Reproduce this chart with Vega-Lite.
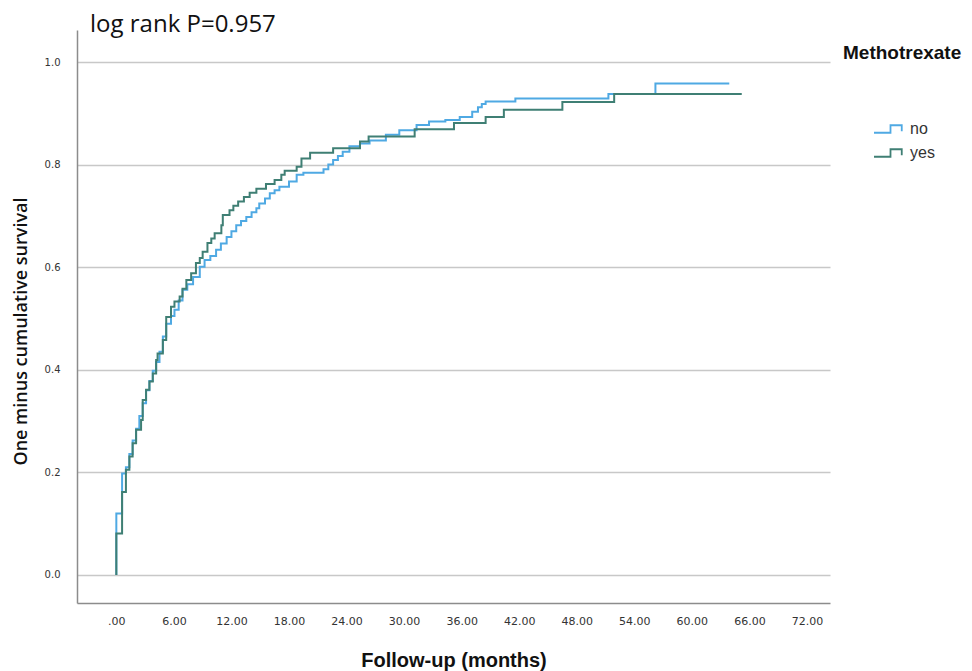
{
  "$schema": "https://vega.github.io/schema/vega-lite/v6.json",
  "width": 753,
  "height": 573,
  "autosize": {"type": "none"},
  "padding": {"left": 77, "top": 30, "right": 142, "bottom": 68},
  "background": "white",
  "title": {"text": "log rank P=0.957", "anchor": "start", "frame": "group", "dx": 13, "offset": 0, "dy": 26, "baseline": "alphabetic", "font": "Open Sans", "fontSize": 24, "fontWeight": "normal", "color": "#111111"},
  "config": {"view": {"stroke": null}},
  "datasets": {
    "km": [
      {"group": "no", "i": 0, "t": 0, "s": 0},
      {"group": "no", "i": 1, "t": 0, "s": 0.12},
      {"group": "no", "i": 2, "t": 0.6, "s": 0.198},
      {"group": "no", "i": 3, "t": 1.0, "s": 0.21},
      {"group": "no", "i": 4, "t": 1.36, "s": 0.236},
      {"group": "no", "i": 5, "t": 1.7, "s": 0.262},
      {"group": "no", "i": 6, "t": 2.06, "s": 0.285},
      {"group": "no", "i": 7, "t": 2.4, "s": 0.31},
      {"group": "no", "i": 8, "t": 2.75, "s": 0.335},
      {"group": "no", "i": 9, "t": 3.1, "s": 0.36},
      {"group": "no", "i": 10, "t": 3.45, "s": 0.378},
      {"group": "no", "i": 11, "t": 3.8, "s": 0.398},
      {"group": "no", "i": 12, "t": 4.15, "s": 0.415},
      {"group": "no", "i": 13, "t": 4.5, "s": 0.435},
      {"group": "no", "i": 14, "t": 4.85, "s": 0.465},
      {"group": "no", "i": 15, "t": 5.2, "s": 0.49},
      {"group": "no", "i": 16, "t": 5.7, "s": 0.505},
      {"group": "no", "i": 17, "t": 6.06, "s": 0.517},
      {"group": "no", "i": 18, "t": 6.5, "s": 0.535},
      {"group": "no", "i": 19, "t": 6.9, "s": 0.556},
      {"group": "no", "i": 20, "t": 7.4, "s": 0.567},
      {"group": "no", "i": 21, "t": 8.0, "s": 0.581},
      {"group": "no", "i": 22, "t": 8.7, "s": 0.601},
      {"group": "no", "i": 23, "t": 9.2, "s": 0.614},
      {"group": "no", "i": 24, "t": 9.8, "s": 0.622},
      {"group": "no", "i": 25, "t": 10.4, "s": 0.634},
      {"group": "no", "i": 26, "t": 10.9, "s": 0.646},
      {"group": "no", "i": 27, "t": 11.5, "s": 0.659},
      {"group": "no", "i": 28, "t": 12.0, "s": 0.67},
      {"group": "no", "i": 29, "t": 12.5, "s": 0.682},
      {"group": "no", "i": 30, "t": 13.0, "s": 0.69},
      {"group": "no", "i": 31, "t": 13.55, "s": 0.698},
      {"group": "no", "i": 32, "t": 14.1, "s": 0.707},
      {"group": "no", "i": 33, "t": 14.6, "s": 0.715},
      {"group": "no", "i": 34, "t": 14.9, "s": 0.724},
      {"group": "no", "i": 35, "t": 15.5, "s": 0.734},
      {"group": "no", "i": 36, "t": 16.0, "s": 0.744},
      {"group": "no", "i": 37, "t": 16.5, "s": 0.75},
      {"group": "no", "i": 38, "t": 17.0, "s": 0.757},
      {"group": "no", "i": 39, "t": 18.0, "s": 0.767},
      {"group": "no", "i": 40, "t": 18.8, "s": 0.78},
      {"group": "no", "i": 41, "t": 19.5, "s": 0.784},
      {"group": "no", "i": 42, "t": 21.6, "s": 0.791},
      {"group": "no", "i": 43, "t": 22.1, "s": 0.8},
      {"group": "no", "i": 44, "t": 22.6, "s": 0.809},
      {"group": "no", "i": 45, "t": 23.1, "s": 0.817},
      {"group": "no", "i": 46, "t": 23.6, "s": 0.825},
      {"group": "no", "i": 47, "t": 24.3, "s": 0.836},
      {"group": "no", "i": 48, "t": 25.4, "s": 0.841},
      {"group": "no", "i": 49, "t": 26.4, "s": 0.847},
      {"group": "no", "i": 50, "t": 28.1, "s": 0.858},
      {"group": "no", "i": 51, "t": 29.5, "s": 0.867},
      {"group": "no", "i": 52, "t": 31.3, "s": 0.877},
      {"group": "no", "i": 53, "t": 32.6, "s": 0.884},
      {"group": "no", "i": 54, "t": 34.3, "s": 0.887},
      {"group": "no", "i": 55, "t": 35.8, "s": 0.893},
      {"group": "no", "i": 56, "t": 37.1, "s": 0.903},
      {"group": "no", "i": 57, "t": 37.7, "s": 0.912},
      {"group": "no", "i": 58, "t": 38.1, "s": 0.918},
      {"group": "no", "i": 59, "t": 38.5, "s": 0.923},
      {"group": "no", "i": 60, "t": 41.6, "s": 0.929},
      {"group": "no", "i": 61, "t": 51.3, "s": 0.9376},
      {"group": "no", "i": 62, "t": 56.2, "s": 0.958},
      {"group": "no", "i": 63, "t": 63.9, "s": 0.958},
      {"group": "yes", "i": 0, "t": 0, "s": 0},
      {"group": "yes", "i": 1, "t": 0, "s": 0.081},
      {"group": "yes", "i": 2, "t": 0.6, "s": 0.162},
      {"group": "yes", "i": 3, "t": 1.0, "s": 0.205},
      {"group": "yes", "i": 4, "t": 1.36, "s": 0.231},
      {"group": "yes", "i": 5, "t": 1.7, "s": 0.257},
      {"group": "yes", "i": 6, "t": 2.06, "s": 0.283},
      {"group": "yes", "i": 7, "t": 2.58, "s": 0.302},
      {"group": "yes", "i": 8, "t": 2.75, "s": 0.341},
      {"group": "yes", "i": 9, "t": 3.1, "s": 0.361},
      {"group": "yes", "i": 10, "t": 3.45, "s": 0.377},
      {"group": "yes", "i": 11, "t": 3.8, "s": 0.393},
      {"group": "yes", "i": 12, "t": 4.15, "s": 0.419},
      {"group": "yes", "i": 13, "t": 4.3, "s": 0.432},
      {"group": "yes", "i": 14, "t": 4.85, "s": 0.458},
      {"group": "yes", "i": 15, "t": 5.2, "s": 0.503},
      {"group": "yes", "i": 16, "t": 5.7, "s": 0.523},
      {"group": "yes", "i": 17, "t": 6.06, "s": 0.533},
      {"group": "yes", "i": 18, "t": 6.6, "s": 0.543},
      {"group": "yes", "i": 19, "t": 6.9, "s": 0.558},
      {"group": "yes", "i": 20, "t": 7.3, "s": 0.575},
      {"group": "yes", "i": 21, "t": 7.8, "s": 0.588},
      {"group": "yes", "i": 22, "t": 8.3, "s": 0.608},
      {"group": "yes", "i": 23, "t": 8.7, "s": 0.618},
      {"group": "yes", "i": 24, "t": 9.0, "s": 0.63},
      {"group": "yes", "i": 25, "t": 9.5, "s": 0.647},
      {"group": "yes", "i": 26, "t": 9.9, "s": 0.656},
      {"group": "yes", "i": 27, "t": 10.25, "s": 0.666},
      {"group": "yes", "i": 28, "t": 10.95, "s": 0.682},
      {"group": "yes", "i": 29, "t": 11.1, "s": 0.702},
      {"group": "yes", "i": 30, "t": 11.8, "s": 0.711},
      {"group": "yes", "i": 31, "t": 12.2, "s": 0.72},
      {"group": "yes", "i": 32, "t": 12.7, "s": 0.728},
      {"group": "yes", "i": 33, "t": 13.3, "s": 0.737},
      {"group": "yes", "i": 34, "t": 13.9, "s": 0.745},
      {"group": "yes", "i": 35, "t": 14.6, "s": 0.753},
      {"group": "yes", "i": 36, "t": 15.6, "s": 0.762},
      {"group": "yes", "i": 37, "t": 16.5, "s": 0.77},
      {"group": "yes", "i": 38, "t": 17.2, "s": 0.78},
      {"group": "yes", "i": 39, "t": 17.55, "s": 0.788},
      {"group": "yes", "i": 40, "t": 18.8, "s": 0.796},
      {"group": "yes", "i": 41, "t": 19.3, "s": 0.812},
      {"group": "yes", "i": 42, "t": 20.2, "s": 0.823},
      {"group": "yes", "i": 43, "t": 22.6, "s": 0.832},
      {"group": "yes", "i": 44, "t": 25.4, "s": 0.845},
      {"group": "yes", "i": 45, "t": 26.3, "s": 0.855},
      {"group": "yes", "i": 46, "t": 31.1, "s": 0.869},
      {"group": "yes", "i": 47, "t": 35.2, "s": 0.881},
      {"group": "yes", "i": 48, "t": 38.5, "s": 0.893},
      {"group": "yes", "i": 49, "t": 40.4, "s": 0.907},
      {"group": "yes", "i": 50, "t": 46.5, "s": 0.922},
      {"group": "yes", "i": 51, "t": 51.9, "s": 0.9376},
      {"group": "yes", "i": 52, "t": 65.2, "s": 0.9376}
    ]
  },
  "data": {"name": "km"},
  "mark": {"type": "line", "interpolate": "step-after", "strokeWidth": 2},
  "encoding": {
    "x": {
      "field": "t", "type": "quantitative",
      "scale": {"domain": [-4.1, 74.4], "nice": false, "zero": false},
      "axis": {
        "values": [0, 6, 12, 18, 24, 30, 36, 42, 48, 54, 60, 66, 72],
        "labelExpr": "datum.value == 0 ? '.00' : format(datum.value, '.2f')",
        "title": "Follow-up (months)",
        "grid": false, "ticks": false,
        "domainColor": "#8c8c8c", "domainWidth": 1.5,
        "labelFont": "DejaVu Sans", "labelFontSize": 11, "labelColor": "#333333", "labelPadding": 12,
        "labelFlush": false, "labelOverlap": false,
        "titleFont": "Liberation Sans", "titleFontSize": 20, "titleFontWeight": "bold", "titleColor": "#111111",
        "titleY": 63, "titleBaseline": "alphabetic"
      }
    },
    "y": {
      "field": "s", "type": "quantitative",
      "scale": {"domain": [-0.0546, 1.0624], "nice": false, "zero": false},
      "axis": {
        "values": [0, 0.2, 0.4, 0.6, 0.8, 1.0],
        "format": ".1f",
        "title": "One minus cumulative survival",
        "grid": true, "gridColor": "#c8c8c8", "gridWidth": 1.5,
        "ticks": false,
        "domainColor": "#8c8c8c", "domainWidth": 1.5,
        "labelFont": "DejaVu Sans", "labelFontSize": 10, "labelColor": "#333333", "labelPadding": 17,
        "labelFlush": false, "labelOverlap": false,
        "titleFont": "Open Sans", "titleFontSize": 18, "titleFontWeight": 600, "titleColor": "#111111",
        "titleX": -56, "titleY": 301, "titleAngle": -90, "titleAlign": "center", "titleBaseline": "middle"
      }
    },
    "color": {
      "field": "group", "type": "nominal",
      "scale": {"domain": ["no", "yes"], "range": ["#4FA9E3", "#3F7F74"]},
      "legend": {
        "orient": "none", "legendX": 766, "legendY": 14, "padding": 0,
        "title": "Methotrexate",
        "titleFont": "Liberation Sans", "titleFontSize": 19, "titleFontWeight": "bold", "titleColor": "#111111",
        "titlePadding": 50,
        "symbolType": "M-1,0.25H0.1V-0.25H0.85V0.15",
        "symbolSize": 900, "symbolStrokeWidth": 1.8,
        "symbolOffset": 30, "labelOffset": 5,
        "labelFont": "Liberation Sans", "labelFontSize": 16, "labelColor": "#333333",
        "rowPadding": -1
      }
    },
    "order": {"field": "i", "type": "quantitative"}
  }
}
